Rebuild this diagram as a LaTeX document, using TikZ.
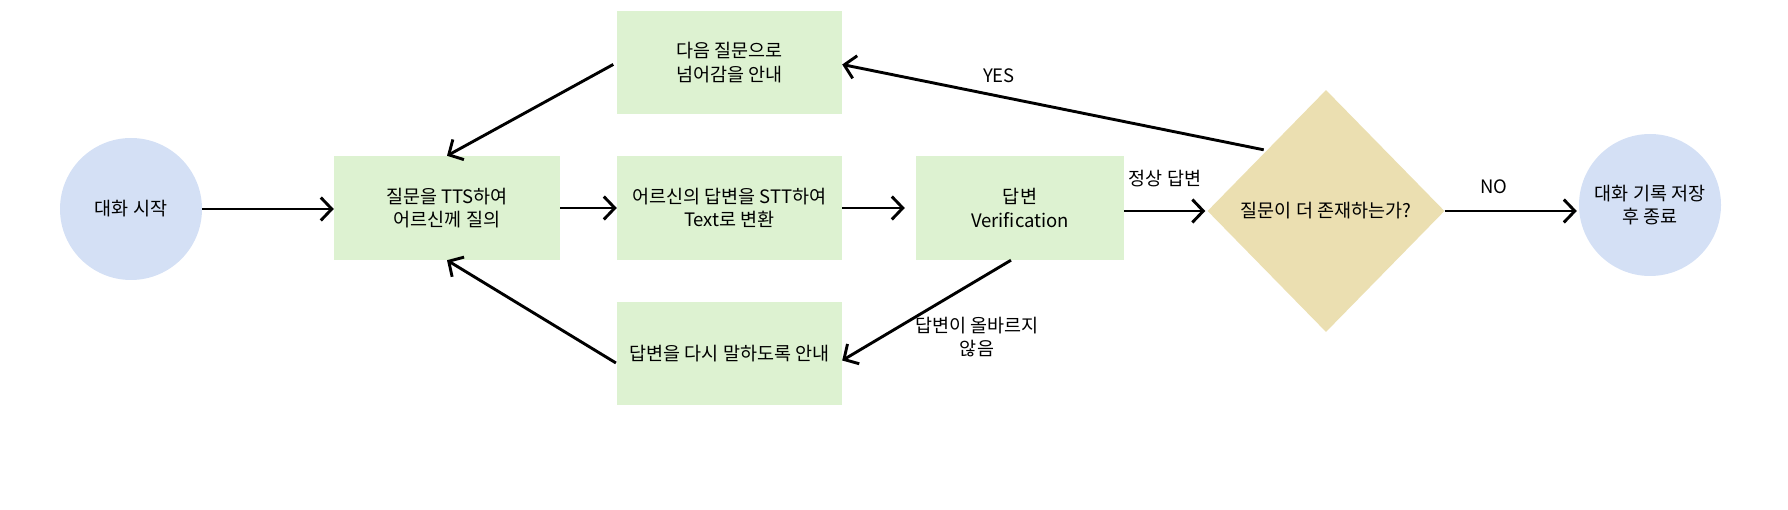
\documentclass[tikz,border=0pt]{standalone}
\usepackage{fontspec}
\setmainfont{Noto Sans CJK KR}
\usetikzlibrary{arrows.meta,shapes.geometric}
\definecolor{boxgreen}{RGB}{221,242,209}
\definecolor{circblue}{RGB}{212,224,245}
\definecolor{diasand}{RGB}{235,223,177}
\tikzset{
  txt/.style={font=\fontsize{18.5}{23.5}\selectfont, align=center, text=black},
  stepbox/.style={txt, fill=boxgreen, draw=none, inner sep=0pt, minimum height=104pt},
  endpoint/.style={txt, circle, fill=circblue, draw=none, inner sep=0pt, minimum size=142pt},
  decision/.style={txt, diamond, fill=diasand, draw=none, inner sep=0pt, minimum width=237pt, minimum height=242pt},
  flow/.style={line width=2.9pt, -{Straight Barb[length=11pt,width=23pt,line width=2.9pt]}},
  lbl/.style={txt}
}
\begin{document}
\begin{tikzpicture}[x=1pt,y=-1pt]
\useasboundingbox (0,0) rectangle (1788,510);
\node[endpoint] (start) at (131,209) {대화 시작};
\node[stepbox, minimum width=226pt] (ask) at (447,208) {질문을 TTS하여\\어르신께 질의};
\node[stepbox, minimum width=225pt] (stt) at (729.5,208) {어르신의 답변을 STT하여\\Text로 변환};
\node[stepbox, minimum width=225pt, minimum height=103pt] (next) at (729.5,62.5) {다음 질문으로\\넘어감을 안내};
\node[stepbox, minimum width=225pt, minimum height=103pt] (retry) at (729.5,353.5) {답변을 다시 말하도록 안내};
\node[stepbox, minimum width=208pt] (verify) at (1020,208) {답변\\Verification};
\node[decision] (dia) at (1326,211) {질문이 더 존재하는가?};
\node[endpoint] (finish) at (1650,205) {대화 기록 저장\\후 종료};

\draw[flow] (start.east |- 0,209) -- (ask.west |- 0,209);
\draw[flow] (ask.east) -- (stt.west);
\draw[flow, shorten >=11pt] (stt.east) -- (verify.west);
\draw[flow, shorten >=2pt] (verify.east |- dia.west) -- (dia.west);
\draw[flow, shorten >=2pt] (dia.east) -- (dia.east -| finish.west);
\draw[flow, shorten <=3pt] (dia.north west) -- ([yshift=-2pt]next.east);
\draw[flow, shorten <=4pt] (next.west) -- (ask.north);
\draw[flow] ([xshift=-9pt]verify.south) -- ([yshift=-7pt]retry.east);
\draw[flow, shorten <=1pt] ([yshift=-10pt]retry.west) -- (ask.south);

\node[lbl] (lblok) at (1165,179) {정상 답변};
\node[lbl] (lblyes) at (999,76) {YES};
\node[lbl] (lblno) at (1494,187) {NO};
\node[lbl] (lblbad) at (977,337) {답변이 올바르지\\않음};
\end{tikzpicture}
\end{document}
